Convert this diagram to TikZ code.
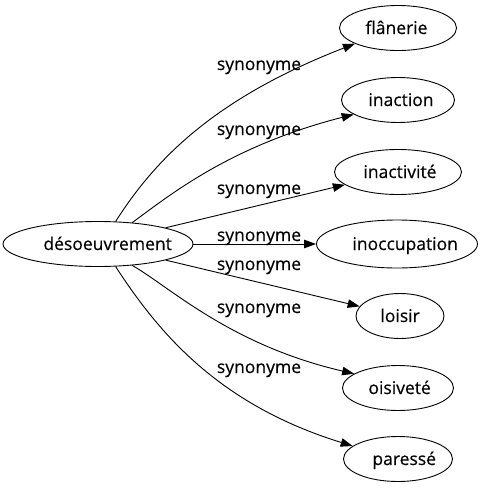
\documentclass[tikz,border=0pt]{standalone}
\usepackage{fontspec}
\newfontfamily\rf{Open Sans}[FakeBold=0.35]
\usetikzlibrary{arrows.meta,shapes.geometric}
\begin{document}
\begin{tikzpicture}[x=1pt,y=-1pt,line width=0.9pt,
  word/.style={draw,ellipse,inner sep=0pt,minimum height=45pt},
  txt/.style={anchor=base west,inner sep=0pt,font=\fontsize{17.5}{19}\rf},
  lab/.style={anchor=base,inner sep=0pt,font=\fontsize{17.5}{19}\rf},
  syn/.style={draw,-{Triangle[length=12pt,width=8.5pt]}}]
\useasboundingbox (0,0) rectangle (485,491);
\node[word,minimum width=190pt] (d) at (98,244) {};
\node[word,minimum width=117pt] (f) at (398,28) {};
\node[word,minimum width=113pt] (ia) at (398,100) {};
\node[word,minimum width=127pt] (iv) at (398,172) {};
\node[word,minimum width=161pt,minimum height=48pt] (io) at (397,244) {};
\node[word,minimum width=88pt] (l) at (400,316) {};
\node[word,minimum width=111pt] (o) at (398,388) {};
\node[word,minimum width=109pt] (p) at (398,459) {};
\node[txt] (dt) at (43,250) {désoeuvrement};
\node[txt] (ft) at (365,34) {flânerie};
\node[txt] (iat) at (368,106) {inaction};
\node[txt] (ivt) at (363,178) {inactivité};
\node[txt] (iot) at (352,250) {inoccupation};
\node[txt] (lt) at (380,322) {loisir};
\node[txt] (ot) at (368,394) {oisiveté};
\node[txt] (pt) at (372,465) {paressé};
\draw[syn] (d.52) .. controls (153,163) and (210,100) .. (f.200);
\draw[syn] (d.32) .. controls (170,195) and (230,146) .. (ia.198);
\draw[syn] (d) -- (iv);
\draw[syn] (d) -- (io);
\draw[syn] (d) -- (l);
\draw[syn] (d.-32) .. controls (170,287) and (230,345) .. (o.162);
\draw[syn] (d.-52) .. controls (160,335) and (220,405) .. (p.164);
\node[lab] (s1) at (259,70) {synonyme};
\node[lab] (s2) at (259,135) {synonyme};
\node[lab] (s3) at (259,194) {synonyme};
\node[lab] (s4) at (259,241) {synonyme};
\node[lab] (s5) at (259,270) {synonyme};
\node[lab] (s6) at (259,313) {synonyme};
\node[lab] (s7) at (259,373) {synonyme};
\end{tikzpicture}
\end{document}
